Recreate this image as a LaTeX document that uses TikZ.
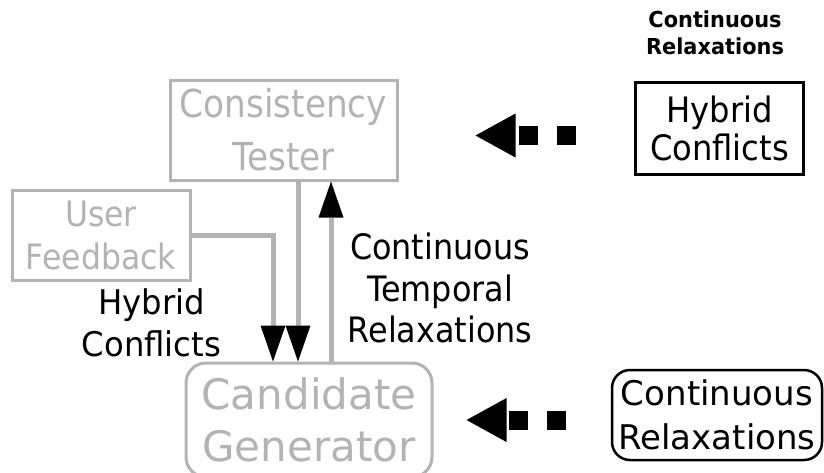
\documentclass[tikz,border=0pt]{standalone}
\usepackage{fontspec}
\setmainfont{DejaVu Sans}
% slightly condensed cuts of the same family, one per text group
\newfontfamily\fsTester{DejaVu Sans}[FakeStretch=0.89]
\newfontfamily\fsUser{DejaVu Sans}[FakeStretch=0.90]
\newfontfamily\fsLabel{DejaVu Sans}[FakeStretch=0.91]
\newfontfamily\fsHybrid{DejaVu Sans}[FakeStretch=0.95]
\newfontfamily\fsInput{DejaVu Sans}[FakeStretch=0.92]
\newfontfamily\fsTitle{DejaVu Sans}[FakeStretch=0.95]
\usetikzlibrary{arrows.meta}
\definecolor{faded}{HTML}{B3B3B3}

\begin{document}
\begin{tikzpicture}[x=1pt,y=-1pt,
  fadedbox/.style={draw=faded, line width=3pt, text=faded, align=center, inner sep=0pt},
  inputbox/.style={draw=black, line width=2.5pt, align=center, inner sep=0pt},
  flow/.style={draw=faded, line width=5pt,
    -{Triangle[length=36pt,width=25pt,color=black,line width=0pt]}},
  feed/.style={draw=black, line width=19pt, dash pattern=on 19pt off 19pt,
    -{Triangle[length=40pt,width=44pt,line width=0pt]}}]
\useasboundingbox (0,0) rectangle (824,472);

% main blocks
\node[fadedbox, font=\fsTester\fontsize{38.5}{53}\selectfont,
      minimum width=227pt, minimum height=100pt] (tester) at (283.5,130)
  {Consistency\\Tester};
\node[fadedbox, font=\fsUser\fontsize{35}{43}\selectfont,
      minimum width=178pt, minimum height=90pt] (user) at (101,235)
  {User\\Feedback};
\node[fadedbox, font=\fontsize{42}{52}\selectfont, rounded corners=20pt,
      minimum width=246pt, minimum height=114pt] (cand) at (309,420)
  {Candidate\\Generator};

% external inputs
\node[inputbox, font=\fsInput\fontsize{35}{38}\selectfont,
      minimum width=168pt, minimum height=92pt] (hc) at (719.5,128.5)
  {Hybrid\\Conflicts};
\node[inputbox, font=\fontsize{34}{44}\selectfont, rounded corners=18pt,
      minimum width=210pt, minimum height=90pt] (cr) at (717,415)
  {Continuous\\Relaxations};

% labels
\node[font=\fsTitle\bfseries\fontsize{22}{27}\selectfont, align=center] (title) at (715,33)
  {Continuous\\Relaxations};
\node[font=\fsHybrid\fontsize{34}{42}\selectfont, align=center, inner sep=0pt] (hclabel) at (151.5,323)
  {Hybrid\\Conflicts};
\node[font=\fsLabel\fontsize{35}{41.5}\selectfont, align=center, inner sep=0pt] (ctrlabel) at (440,288)
  {Continuous\\Temporal\\Relaxations};

% flows between blocks
\coordinate (xa) at (273,0);
\coordinate (xb) at (298,0);
\coordinate (xc) at (331,0);
\draw[flow] (user.east) -| (cand.north -| xa);
\draw[flow] (tester.south -| xb) -- (cand.north -| xb);
\draw[flow] (cand.north -| xc) -- (tester.south -| xc);

% feeds from the inputs
\coordinate (ya) at (0,135.5);
\coordinate (yb) at (0,420);
\draw[feed, shorten <=58pt, shorten >=77pt] (hc.west |- ya) -- (tester.east |- ya);
\draw[feed, shorten <=45pt, shorten >=33pt] (cr.west |- yb) -- (cand.east |- yb);
\end{tikzpicture}
\end{document}
